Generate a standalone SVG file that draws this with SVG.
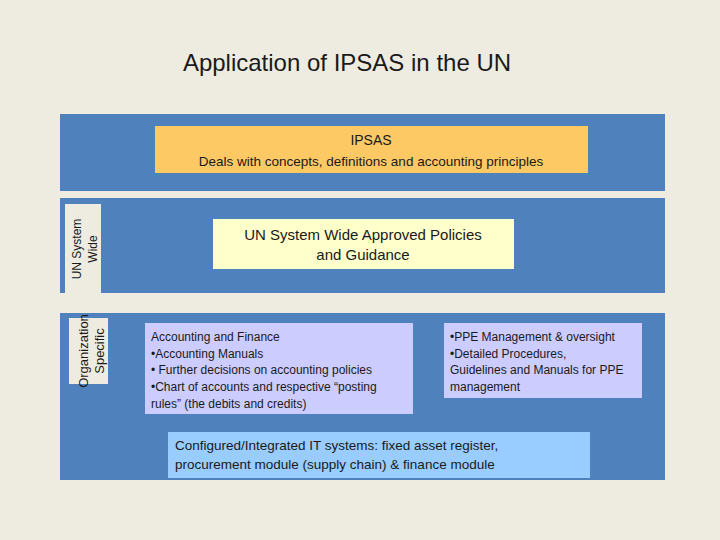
<svg xmlns="http://www.w3.org/2000/svg" width="720" height="540" viewBox="0 0 720 540">
<style>
text{font-family:"Liberation Sans","DejaVu Sans",sans-serif;fill:#1a1a1a}
.band{fill:#4f81bd}
.s{font-size:12px}
</style>
<rect width="720" height="540" fill="#eeece1"/>
<text x="347" y="71" text-anchor="middle" font-size="24">Application of IPSAS in the UN</text>
<g id="band-ipsas">
<rect class="band" x="60" y="114" width="605" height="77"/>
</g>
<g id="band-system">
<rect class="band" x="60" y="198" width="605" height="95"/>
<rect x="65" y="204" width="36" height="89" fill="#eeece1"/>
<text transform="translate(81,249) rotate(-90)" text-anchor="middle" class="s">UN System</text>
<text transform="translate(97,249) rotate(-90)" text-anchor="middle" class="s">Wide</text>
</g>
<g id="band-org">
<rect class="band" x="60" y="313" width="605" height="167"/>
<rect x="69" y="318" width="39" height="66" fill="#eeece1"/>
<text transform="translate(88,351) rotate(-90)" text-anchor="middle" font-size="13">Organization</text>
<text transform="translate(104,351) rotate(-90)" text-anchor="middle" font-size="13">Specific</text>
</g>
<g id="ipsas">
<rect x="155" y="126" width="433" height="47" fill="#fcc965"/>
<text x="371" y="145" text-anchor="middle" font-size="14">IPSAS</text>
<text x="371" y="166" text-anchor="middle" font-size="13.5">Deals with concepts, definitions and accounting principles</text>
</g>
<g id="policies">
<rect x="213" y="219" width="301" height="50" fill="#ffffcc"/>
<text x="363" y="240" text-anchor="middle" font-size="15">UN System Wide Approved Policies</text>
<text x="363" y="260" text-anchor="middle" font-size="15">and Guidance</text>
</g>
<g id="accounting">
<rect x="145" y="323" width="268" height="91" fill="#ccccff"/>
<text x="151" y="341" class="s">Accounting and Finance</text>
<text x="151" y="358" class="s">•Accounting Manuals</text>
<text x="151" y="374" class="s">• Further decisions on accounting policies</text>
<text x="151" y="391" class="s">•Chart of accounts and respective “posting</text>
<text x="151" y="408" class="s">rules” (the debits and credits)</text>
</g>
<g id="ppe">
<rect x="444" y="323" width="198" height="75" fill="#ccccff"/>
<text x="450" y="341" class="s">•PPE Management &amp; oversight</text>
<text x="450" y="358" class="s">•Detailed Procedures,</text>
<text x="450" y="374" class="s">Guidelines and Manuals for PPE</text>
<text x="450" y="391" class="s">management</text>
</g>
<g id="it">
<rect x="168" y="432" width="422" height="46" fill="#99ccff"/>
<text x="175" y="450" font-size="13.5">Configured/Integrated IT systems: fixed asset register,</text>
<text x="175" y="469" font-size="13.5">procurement module (supply chain) &amp; finance module</text>
</g>
<g id="connectors"></g>
</svg>
